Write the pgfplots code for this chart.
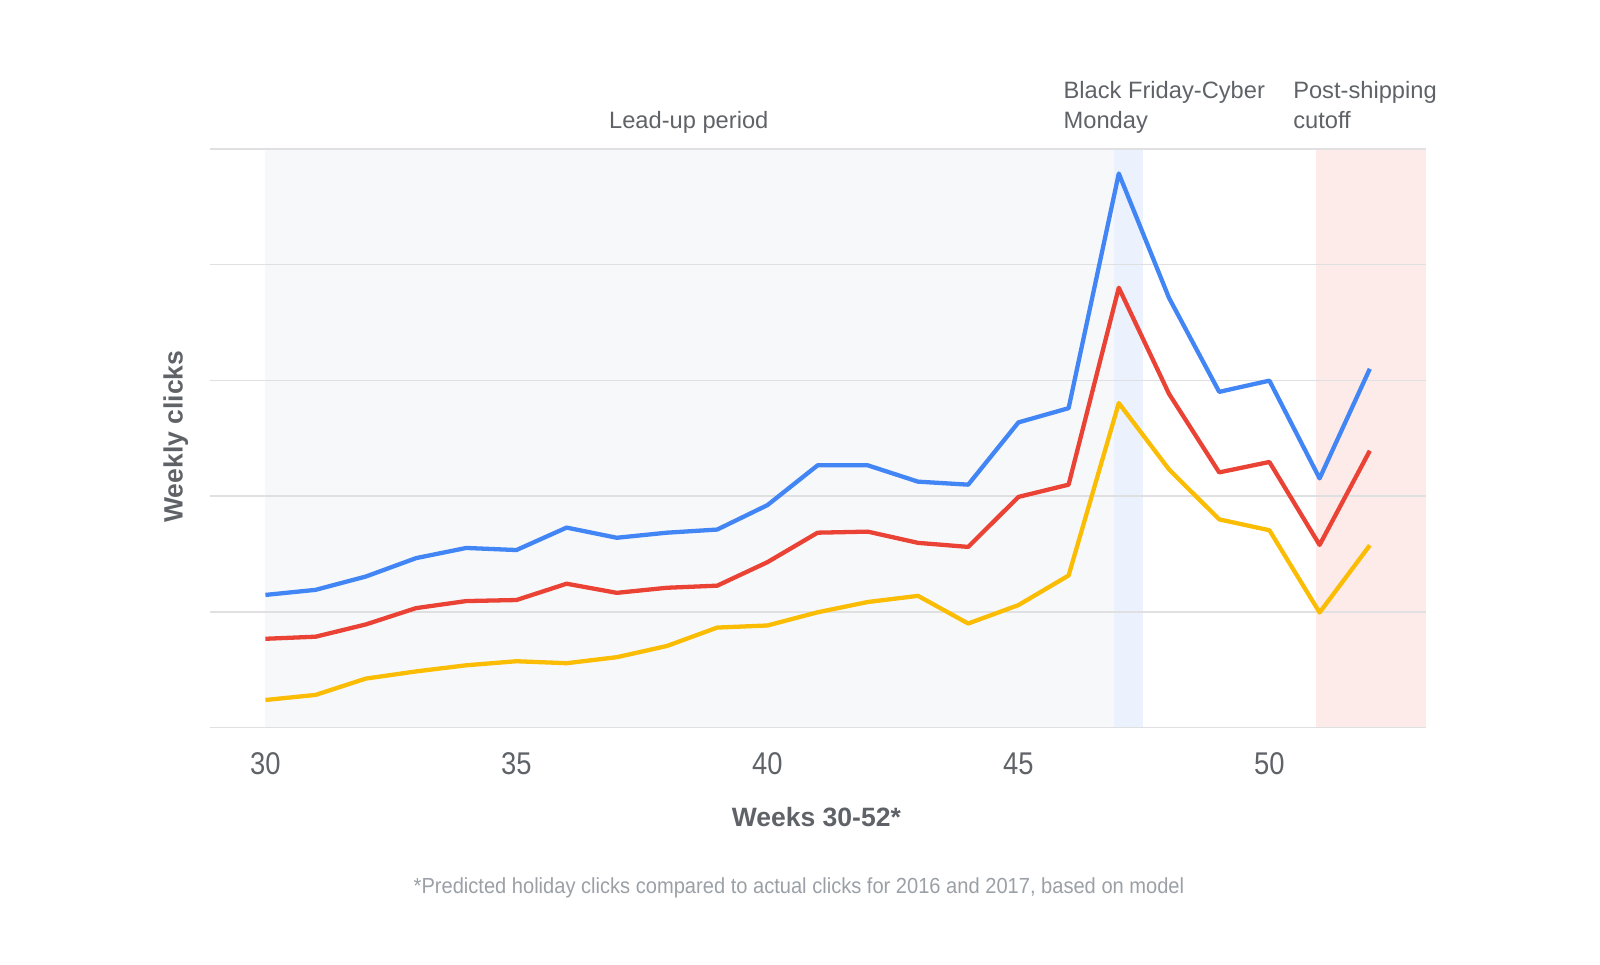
\documentclass[border=0pt]{standalone}
\usepackage{fontspec}
\setmainfont{Liberation Sans}
\newfontfamily\narrowfont[FakeStretch=0.87]{Liberation Sans}
\newfontfamily\notefont[FakeStretch=0.92]{Liberation Sans}
\usepackage{pgfplots}
\pgfplotsset{compat=1.18}

\definecolor{gblue}{HTML}{4285F4}
\definecolor{gred}{HTML}{EA4335}
\definecolor{gyellow}{HTML}{FBBC04}
\definecolor{textgray}{HTML}{5F6368}
\definecolor{notegray}{HTML}{9AA0A6}
\definecolor{gridgray}{HTML}{E0E0E3}
\definecolor{leadfill}{HTML}{F7F8FA}
\definecolor{bffill}{HTML}{EBF2FD}
\definecolor{postfill}{HTML}{FCEBE9}

\begin{document}
\begin{tikzpicture}
\begin{axis}[
    at={(103pt,116.35pt)}, anchor=south west,
    scale only axis,
    width=595.5pt, height=283.5pt,
    xmin=28.9, xmax=53.11,
    ymin=0, ymax=5,
    set layers,
    axis line style={draw=none},
    major tick length=0pt,
    xtick={30,35,40,45,50},
    ytick={0,1,2,3,4,5},
    yticklabels={},
    ymajorgrids,
    grid style={gridgray, line width=0.75pt},
    /pgf/number format/assume math mode=true,
    xticklabel style={anchor=base, yshift=-23pt, text=textgray,
        font=\narrowfont\fontsize{15.4}{18}\selectfont},
]
    % shaded periods
    \addplot[draw=none, fill=leadfill, on layer=axis background]
        coordinates {(30,0) (46.91,0) (46.91,5) (30,5)} -- cycle;
    \addplot[draw=none, fill=bffill, on layer=axis background]
        coordinates {(46.91,0) (47.48,0) (47.48,5) (46.91,5)} -- cycle;
    \addplot[draw=none, fill=postfill, on layer=axis background]
        coordinates {(50.93,0) (53.11,0) (53.11,5) (50.93,5)} -- cycle;

    % blue
    \addplot[gblue, line width=2.1pt, line join=round] coordinates {
        (30,1.146) (31,1.190) (32,1.305) (33,1.464) (34,1.552) (35,1.534)
        (36,1.728) (37,1.640) (38,1.684) (39,1.711) (40,1.922) (41,2.266)
        (42,2.266) (43,2.125) (44,2.099) (45,2.637) (46,2.760) (47,4.788)
        (48,3.713) (49,2.901) (50,2.998) (51,2.153) (52,3.100)
    };

    % red
    \addplot[gred, line width=2.1pt, line join=round] coordinates {
        (30,0.767) (31,0.785) (32,0.891) (33,1.032) (34,1.093) (35,1.102)
        (36,1.243) (37,1.164) (38,1.208) (39,1.226) (40,1.429) (41,1.684)
        (42,1.693) (43,1.596) (44,1.561) (45,1.993) (46,2.099) (47,3.801)
        (48,2.884) (49,2.205) (50,2.295) (51,1.578) (52,2.392)
    };

    % yellow
    \addplot[gyellow, line width=2.1pt, line join=round] coordinates {
        (30,0.238) (31,0.282) (32,0.423) (33,0.485) (34,0.538) (35,0.573)
        (36,0.556) (37,0.608) (38,0.705) (39,0.864) (40,0.882) (41,0.996)
        (42,1.085) (43,1.138) (44,0.899) (45,1.058) (46,1.314) (47,2.804)
        (48,2.231) (49,1.799) (50,1.705) (51,0.994) (52,1.575)
    };
\end{axis}

\begin{scope}[text=textgray, inner sep=0pt]
    \node[anchor=base, font=\fontsize{11.6}{14}\selectfont] at (337.5pt,410pt) {Lead-up period};
    \node[anchor=base west, font=\fontsize{11.6}{14}\selectfont] at (521pt,424.5pt) {Black Friday-Cyber};
    \node[anchor=base west, font=\fontsize{11.6}{14}\selectfont] at (521pt,410pt) {Monday};
    \node[anchor=base west, font=\fontsize{11.6}{14}\selectfont] at (633.5pt,424.5pt) {Post-shipping};
    \node[anchor=base west, font=\fontsize{11.6}{14}\selectfont] at (633.5pt,410pt) {cutoff};
    \node[anchor=base, font=\bfseries\fontsize{13}{16}\selectfont] at (400pt,67.95pt) {Weeks 30-52*};
    \node[anchor=base, rotate=90, font=\bfseries\fontsize{13}{16}\selectfont] at (89.5pt,258.85pt) {Weekly clicks};
    \node[anchor=base, text=notegray, font=\notefont\fontsize{10.7}{12}\selectfont] at (391.5pt,35pt)
        {*Predicted holiday clicks compared to actual clicks for 2016 and 2017, based on model};
\end{scope}
\pgfresetboundingbox
\path[use as bounding box] (0,0) rectangle (784pt,472.85pt);
\end{tikzpicture}
\end{document}
